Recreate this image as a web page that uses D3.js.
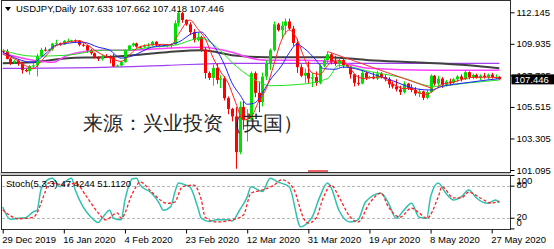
<!DOCTYPE html>
<html>
<head>
<meta charset="utf-8">
<script src="https://cdn.jsdelivr.net/npm/d3@7"></script>
<style>
  body { margin: 0; background: #fff; }
  svg { display: block; }
  text { font-family: "Liberation Sans", Arial, sans-serif; }
</style>
</head>
<body>
<svg id="chart" width="554" height="249"></svg>
<script>
//
// Data (bar 0 = 29 Dec 2019)
//

const symbolTitle = "USDJPY,Daily";
const lastQuote = ["107.633", "107.662", "107.418", "107.446"];
const stochTitle = "Stoch(5,3,3) 47.4244 51.1120";
const watermark = "来源：兴业投资（英国）";

const dateBars = [0, 16, 32, 48, 64, 80, 96, 112, 128];
const dateLabels = ["29 Dec 2019", "16 Jan 2020", "4 Feb 2020", "23 Feb 2020", "12 Mar 2020",
  "31 Mar 2020", "19 Apr 2020", "8 May 2020", "27 May 2020"];
const priceTicks = [112.145, 109.935, 107.725, 105.515, 103.305, 101.095];
const stochTicks = [100, 80, 20, 0];
const lastPrice = 107.446;

// open, high, low, close
const ohlc = [
  [109.45,109.55,109.30,109.40],[109.40,109.55,108.85,108.88],[108.88,108.95,108.45,108.67],
  [108.67,108.82,108.55,108.75],[108.75,108.88,108.40,108.55],[108.55,108.63,107.85,108.10],
  [108.10,108.20,107.95,108.02],[108.02,108.45,107.77,108.38],[108.38,108.62,108.22,108.42],
  [108.42,109.25,107.65,109.08],[109.08,109.66,109.00,109.52],[109.52,109.70,109.40,109.47],
  [109.47,109.60,109.42,109.55],[109.55,110.00,109.45,109.95],[109.95,110.22,109.80,109.98],
  [109.98,110.02,109.80,109.90],[109.90,110.20,109.85,110.14],[110.14,110.30,110.04,110.15],
  [110.15,110.22,110.08,110.18],[110.18,110.24,110.02,110.16],[110.16,110.20,109.76,109.87],
  [109.87,109.98,109.72,109.82],[109.82,109.86,109.30,109.48],[109.48,109.58,109.17,109.28],
  [109.28,109.32,108.90,108.95],[108.95,109.05,108.73,108.88],[108.88,109.18,108.76,109.07],
  [109.07,109.22,108.95,109.03],[109.03,109.13,108.57,108.98],[108.98,109.22,108.31,108.35],
  [108.35,108.48,108.30,108.42],[108.42,108.75,108.29,108.65],[108.65,109.55,108.62,109.48],
  [109.48,109.85,109.43,109.82],[109.82,110.02,109.73,109.96],[109.96,110.02,109.66,109.74],
  [109.74,109.80,109.62,109.70],[109.70,109.90,109.65,109.77],[109.77,109.98,109.72,109.84],
  [109.84,110.14,109.80,110.08],[110.08,110.12,109.77,109.82],[109.82,109.88,109.70,109.78],
  [109.78,109.86,109.74,109.82],[109.82,109.92,109.70,109.87],[109.87,109.97,109.59,109.90],
  [109.90,111.59,109.87,111.38],[111.38,112.23,111.14,112.09],[112.09,112.18,111.41,111.61],
  [111.61,111.66,111.20,111.30],[111.30,111.45,110.55,110.76],[110.76,110.97,110.03,110.20],
  [110.20,110.72,110.10,110.41],[110.41,110.50,109.37,109.52],[109.52,109.70,107.50,107.89],
  [107.89,108.00,107.40,107.55],[107.55,108.50,107.00,108.25],[108.25,108.52,107.13,107.41],
  [107.41,107.74,106.84,107.52],[107.52,107.68,105.97,106.13],[106.13,106.25,105.00,105.37],
  [105.37,105.45,104.50,104.85],[104.85,105.50,101.18,102.35],[102.35,105.90,102.20,105.52],
  [105.52,105.91,103.92,104.61],[104.61,105.35,103.09,104.63],[104.63,108.00,104.58,107.88],
  [107.88,108.00,106.20,106.50],[106.50,107.30,105.15,105.85],[105.85,107.92,105.55,107.64],
  [107.64,108.80,107.40,108.60],[108.60,109.60,108.10,109.50],[109.50,111.50,109.40,111.30],
  [111.30,111.40,110.80,110.90],[110.90,111.50,110.30,111.20],[111.20,111.72,110.60,111.50],
  [111.50,111.70,110.90,111.00],[111.00,111.20,109.80,110.00],[110.00,110.30,107.90,108.30],
  [108.30,108.50,107.60,107.70],[107.70,108.20,107.20,107.90],[107.90,108.70,107.15,107.50],
  [107.50,107.90,106.90,107.60],[107.60,108.00,107.00,107.20],[107.20,108.50,107.10,108.40],
  [108.40,108.90,108.30,108.80],[108.80,109.38,108.50,109.20],[109.20,109.30,108.50,108.70],
  [108.70,109.10,108.40,108.55],[108.55,108.90,108.30,108.80],[108.80,108.95,108.25,108.45],
  [108.45,108.50,108.30,108.35],[108.35,108.40,107.50,107.80],[107.80,107.85,106.95,107.20],
  [107.20,107.75,107.00,107.15],[107.15,108.10,107.10,107.90],[107.90,108.00,107.40,107.55],
  [107.55,107.70,107.48,107.62],[107.62,107.95,107.45,107.50],[107.50,108.05,107.40,107.85],
  [107.85,107.95,107.50,107.60],[107.60,107.75,107.30,107.45],[107.45,107.60,106.85,107.10],
  [107.10,107.30,106.80,106.95],[106.95,107.45,106.60,106.75],[106.75,107.00,106.35,106.55],
  [106.55,107.30,106.45,107.15],[107.15,107.20,106.70,106.85],[106.85,107.10,106.55,106.70],
  [106.70,106.90,106.30,106.45],[106.45,106.80,106.20,106.60],[106.60,106.65,105.99,106.15],
  [106.15,106.70,106.05,106.55],[106.55,107.80,106.50,107.70],[107.70,107.75,107.00,107.15],
  [107.15,107.70,106.90,107.50],[107.50,107.60,106.85,107.05],[107.05,107.40,106.95,107.30],
  [107.30,107.50,107.00,107.20],[107.20,107.55,107.10,107.45],[107.45,107.75,107.25,107.65],
  [107.65,107.80,107.30,107.45],[107.45,108.10,107.40,107.95],[107.95,108.00,107.45,107.60],
  [107.60,107.85,107.45,107.75],[107.75,107.85,107.50,107.55],[107.55,107.80,107.40,107.70],
  [107.70,107.90,107.50,107.60],[107.60,107.85,107.45,107.78],[107.78,107.90,107.50,107.60],
  [107.60,107.80,107.45,107.63],[107.633,107.662,107.418,107.446]
];

// moving averages as [bar, price]
const maRed = [[0,109.2],[3,108.9],[6,108.4],[8,108.2],[10,108.7],[12,109.3],[14,109.8],[17,110.05],
  [20,110.15],[22,109.9],[24,109.5],[27,109.05],[29,108.85],[31,108.7],[33,109.1],[35,109.6],[38,109.85],
  [42,109.9],[44,109.85],[46,110.6],[48,111.4],[49,111.6],[51,111.0],[53,110.3],[55,109.0],[57,108.0],
  [59,107.2],[61,105.8],[63,104.6],[65,104.8],[67,105.9],[69,106.8],[71,108.5],[73,110.2],[75,110.9],
  [77,110.3],[79,108.9],[81,107.9],[83,107.8],[85,108.4],[87,108.8],[89,108.7],[91,108.2],[93,107.6],
  [95,107.5],[97,107.6],[99,107.6],[101,107.3],[103,107.0],[105,106.8],[107,106.8],[109,106.5],
  [111,106.4],[113,106.7],[115,107.1],[118,107.25],[121,107.5],[124,107.6],[127,107.6],[130,107.55]];
const maBlue = [[0,109.35],[8,108.64],[11,109.2],[14,109.84],[21,110.05],[25,109.7],[28,109.49],
  [31,108.93],[34,109.1],[39,109.7],[43,109.84],[46,110.05],[50,110.7],[52,110.76],[54,110.2],
  [56,109.5],[58,108.5],[60,107.2],[62,106.4],[64,105.7],[66,105.8],[68,106.5],[70,107.4],[73,108.4],
  [75,109.3],[77,109.9],[79,109.6],[82,108.8],[84,108.2],[87,108.15],[89,108.3],[93,108.15],
  [97,107.8],[101,107.45],[109,106.75],[112,106.7],[115,106.95],[121,107.2],[130,107.5]];
const maGreen = [[0,109.49],[8,109.07],[17,109.14],[26,109.49],[32,109.49],[39,109.7],[45,109.84],
  [52,110.33],[56,109.7],[60,108.64],[65,107.59],[70,107.0],[78,107.1],[85,107.5],[88,108.43],
  [96,108.0],[104,107.6],[113,106.95],[122,107.2],[130,107.4]];
const maMagenta = [[0,109.28],[8,108.79],[13,108.64],[17,109.14],[26,109.49],[34,109.49],[43,109.63],
  [52,109.7],[60,109.35],[65,108.93],[69,108.79],[79,108.79],[88,108.64],[96,108.22],[112,108.08],
  [122,108.08],[130,108.08]];
const maBlack = [[0,108.57],[8,108.64],[17,108.93],[26,109.0],[34,109.14],[43,109.35],[52,109.49],
  [56,109.35],[60,109.14],[69,109.0],[85,109.0],[96,108.79],[108,108.64],[122,108.43],[130,108.22]];
const maPurple = [[0,108.22],[26,108.29],[43,108.43],[60,108.57],[78,108.57],[104,108.57],[130,108.57]];
const trendLine = [[85,109.4],[112.5,106.8]];

// stochastic %K and %D as [bar, value]
const stochK = [[0,40],[2,17],[4,19],[6,20],[8,31],[9,34],[10,72],[12,92],[13,94],[15,78],[16,85],
  [18,94],[19,72],[21,41],[23,22],[25,11],[26,19],[28,34],[29,19],[31,16],[32,53],[34,93],[35,94],
  [36,81],[39,66],[41,47],[42,34],[44,41],[45,66],[46,85],[48,81],[49,78],[51,41],[52,19],[54,13],
  [56,16],[59,16],[60,14],[62,34],[64,59],[65,78],[68,69],[70,94],[72,87],[75,78],[78,3],[80,12],
  [81,21],[83,59],[85,85],[86,76],[88,34],[91,12],[93,16],[95,50],[99,66],[101,47],[103,19],[105,34],
  [107,47],[109,21],[111,19],[112,59],[114,85],[116,66],[118,53],[120,59],[122,72],[124,57],[127,47],
  [129,53],[130,47.42]];
const stochD = [[0,35],[1,29],[4,18],[8,21],[11,66],[12,85],[17,81],[19,85],[22,59],[25,29],[27,16],
  [30,29],[31,19],[34,66],[36,87],[39,68],[43,47],[45,49],[47,78],[50,81],[52,53],[53,21],[56,12],
  [60,16],[63,25],[65,66],[68,72],[71,81],[73,91],[76,76],[79,16],[80,10],[82,19],[84,59],[86,81],
  [88,59],[91,21],[93,12],[96,47],[99,66],[101,40],[104,21],[107,38],[109,29],[111,19],[114,59],
  [115,78],[118,57],[120,57],[122,68],[125,57],[128,47],[129,49],[130,51.11]];

//
// Layout
//

const width = 554, height = 249;
const plotRight = 510.5;
const mainTop = 0.5, mainBottom = 172.5;
const subTop = 175.5, subBottom = 229.5;

const colorUp = "#00e000";
const colorDown = "#ff0000";

const svg = d3.select("#chart");

const x = d3.scaleLinear().domain([0, 128]).range([2.7, 491.7]);
const y = d3.scaleLinear().domain([101.095, 112.145]).range([170, 12.3]);
const ys = d3.scaleLinear().domain([0, 100]).range([228.4, 175]);

svg.append("rect").attr("width", width).attr("height", height).attr("fill", "#fff");

const defs = svg.append("defs");
defs.append("clipPath").attr("id", "clipMain").append("rect")
  .attr("x", 2).attr("y", 1).attr("width", plotRight - 2).attr("height", mainBottom - 1.5);
defs.append("clipPath").attr("id", "clipSub").append("rect")
  .attr("x", 2).attr("y", subTop + 0.5).attr("width", plotRight - 2).attr("height", subBottom - subTop - 1);

//
// Main panel
//

const main = svg.append("g").attr("clip-path", "url(#clipMain)");

function drawLine(g, data, scaleY, color, w, dash) {
  const line = d3.line()
    .x(d => x(d[0]))
    .y(d => scaleY(d[1]))
    .curve(d3.curveMonotoneX);
  g.append("path")
    .datum(data)
    .attr("d", line)
    .attr("fill", "none")
    .attr("stroke", color)
    .attr("stroke-width", w)
    .attr("stroke-dasharray", dash || null);
}

drawLine(main, maPurple, y, "#a040f0", 1.2);
drawLine(main, maBlack, y, "#404040", 2);
drawLine(main, maMagenta, y, "#ff40ff", 1.5);

// candles
const candles = main.append("g").selectAll("g").data(ohlc).join("g");
candles.append("line")
  .attr("x1", (d, i) => Math.round(x(i)) + 0.5)
  .attr("x2", (d, i) => Math.round(x(i)) + 0.5)
  .attr("y1", d => y(d[1]))
  .attr("y2", d => y(d[2]))
  .attr("stroke", d => d[3] >= d[0] ? colorUp : colorDown)
  .attr("stroke-width", 1);
candles.append("rect")
  .attr("x", (d, i) => Math.round(x(i)) - 1)
  .attr("width", 3)
  .attr("y", d => y(Math.max(d[0], d[3])))
  .attr("height", d => Math.max(1, Math.abs(y(d[0]) - y(d[3]))))
  .attr("fill", d => d[3] >= d[0] ? colorUp : colorDown);

drawLine(main, maGreen, y, "#20e020", 1);
drawLine(main, maBlue, y, "#2020ff", 1);
drawLine(main, maRed, y, "#ff2020", 1);
drawLine(main, trendLine, y, "#ff3030", 1);

// watermark
svg.append("text")
  .attr("x", 83).attr("y", 130)
  .attr("font-family", "'Noto Sans CJK SC', sans-serif")
  .attr("font-size", 20)
  .attr("fill", "#262626")
  .text(watermark);

// header
svg.append("path").attr("d", "M5,7 L11,7 L8,11 Z").attr("fill", "#000");
svg.append("text").attr("x", 16).attr("y", 12).attr("font-size", 9.5).attr("fill", "#000")
  .text(symbolTitle + "  " + lastQuote.join(" "));

//
// Stochastic panel
//

const sub = svg.append("g").attr("clip-path", "url(#clipSub)");
[80, 20].forEach(v => {
  sub.append("line")
    .attr("x1", 2).attr("x2", plotRight)
    .attr("y1", Math.round(ys(v)) + 0.5).attr("y2", Math.round(ys(v)) + 0.5)
    .attr("stroke", "#b8b8b8").attr("stroke-dasharray", "3,2");
});
drawLine(sub, stochK, ys, "#30c0b0", 1.5);
drawLine(sub, stochD, ys, "#ff2020", 1.3, "3,2");

svg.append("text").attr("x", 6).attr("y", 187).attr("font-size", 9.5).attr("fill", "#000")
  .text(stochTitle);

//
// Frames and axes
//

svg.append("rect").attr("x", 0).attr("y", mainBottom).attr("width", plotRight).attr("height", subTop - mainBottom)
  .attr("fill", "#c8c8c8");
svg.append("rect").attr("x", 1.5).attr("y", mainTop).attr("width", plotRight - 1.5).attr("height", mainBottom - mainTop)
  .attr("fill", "none").attr("stroke", "#303030");
svg.append("rect").attr("x", 1.5).attr("y", subTop).attr("width", plotRight - 1.5).attr("height", subBottom - subTop)
  .attr("fill", "none").attr("stroke", "#303030");
svg.append("line").attr("x1", 308).attr("x2", 328).attr("y1", 171).attr("y2", 171)
  .attr("stroke", "#e03030").attr("stroke-width", 1.5);

const priceAxis = d3.axisRight(y).tickValues(priceTicks).tickSize(4).tickPadding(2)
  .tickFormat(d3.format(".3f"));
svg.append("g").attr("transform", `translate(${plotRight},0)`).call(priceAxis)
  .call(g => g.select(".domain").remove())
  .call(g => g.selectAll("text").attr("font-size", 9.5).attr("font-family", "Liberation Sans, Arial"));

const stochAxis = d3.axisRight(ys).tickValues(stochTicks).tickSize(4).tickPadding(2);
svg.append("g").attr("transform", `translate(${plotRight},0)`).call(stochAxis)
  .call(g => g.select(".domain").remove())
  .call(g => g.selectAll("text").attr("font-size", 9.5).attr("font-family", "Liberation Sans, Arial")
    .attr("dy", d => d === 100 ? "0.9em" : d === 0 ? "-0.35em" : "0.2em"));

const dateAxis = d3.axisBottom(x).tickValues(dateBars).tickSize(4).tickPadding(3)
  .tickFormat((d, i) => dateLabels[i]);
svg.append("g").attr("transform", `translate(0,${subBottom})`).call(dateAxis)
  .call(g => g.select(".domain").remove())
  .call(g => g.selectAll("text").attr("text-anchor", "start").attr("dx", -1)
    .attr("font-size", 9.5).attr("font-family", "Liberation Sans, Arial"));

// current price marker
const py = y(lastPrice);
svg.append("rect").attr("x", plotRight + 1).attr("y", py - 5).attr("width", 43).attr("height", 10)
  .attr("fill", "#000");
svg.append("text").attr("x", plotRight + 4).attr("y", py + 3.5).attr("font-size", 9.5)
  .attr("fill", "#fff").text(lastPrice.toFixed(3));
</script>
</body>
</html>
